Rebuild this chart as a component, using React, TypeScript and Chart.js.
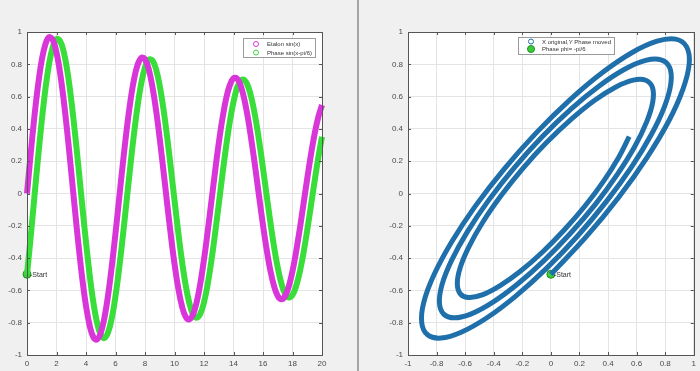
import React, { useEffect, useRef } from 'react';
import { Chart, registerables } from 'chart.js';

Chart.register(...registerables);

// ---- data ----
const X_VALUES = [
  0, 0.25, 0.5, 0.75, 1, 1.25, 1.5, 1.75, 2, 2.25, 2.5, 2.75, 3, 3.25, 3.5, 3.75,
  4, 4.25, 4.5, 4.75, 5, 5.25, 5.5, 5.75, 6, 6.25, 6.5, 6.75, 7, 7.25, 7.5, 7.75,
  8, 8.25, 8.5, 8.75, 9, 9.25, 9.5, 9.75, 10, 10.25, 10.5, 10.75, 11, 11.25, 11.5, 11.75,
  12, 12.25, 12.5, 12.75, 13, 13.25, 13.5, 13.75, 14, 14.25, 14.5, 14.75, 15, 15.25, 15.5, 15.75,
  16, 16.25, 16.5, 16.75, 17, 17.25, 17.5, 17.75, 18, 18.25, 18.5, 18.75, 19, 19.25, 19.5, 19.75, 20,
];

const ETALON = [
  0.0, 0.246, 0.475, 0.671, 0.825, 0.925, 0.968, 0.95, 0.873, 0.743, 0.569, 0.361, 0.133, -0.101, -0.326, -0.529,
  -0.696, -0.819, -0.89, -0.904, -0.863, -0.769, -0.628, -0.45, -0.246, -0.029, 0.187, 0.389, 0.565, 0.704, 0.797, 0.84,
  0.831, 0.771, 0.663, 0.516, 0.338, 0.142, -0.061, -0.257, -0.435, -0.584, -0.695, -0.762, -0.78, -0.75, -0.674, -0.557,
  -0.408, -0.235, -0.05, 0.136, 0.311, 0.464, 0.587, 0.671, 0.713, 0.711, 0.664, 0.577, 0.455, 0.307, 0.143, -0.029,
  -0.196, -0.348, -0.477, -0.574, -0.635, -0.655, -0.634, -0.575, -0.481, -0.358, -0.216, -0.062, 0.093, 0.24, 0.369, 0.474, 0.548,
];

const PHASE = [
  -0.5, -0.269, -0.023, 0.221, 0.449, 0.648, 0.804, 0.908, 0.956, 0.943, 0.873, 0.749, 0.58, 0.377, 0.153, -0.078,
  -0.302, -0.505, -0.675, -0.8, -0.875, -0.895, -0.859, -0.771, -0.635, -0.462, -0.263, -0.049, 0.165, 0.367, 0.543, 0.684,
  0.781, 0.828, 0.824, 0.769, 0.666, 0.524, 0.351, 0.159, -0.041, -0.236, -0.414, -0.564, -0.677, -0.747, -0.77, -0.745,
  -0.674, -0.562, -0.417, -0.248, -0.067, 0.117, 0.291, 0.445, 0.568, 0.656, 0.701, 0.702, 0.66, 0.578, 0.461, 0.317,
  0.156, -0.013, -0.178, -0.33, -0.459, -0.558, -0.621, -0.644, -0.628, -0.572, -0.483, -0.365, -0.226, -0.076, 0.077, 0.223, 0.352,
];

const START_POINT = { x: 0, y: -0.5 };

const LEFT_LABELS = ['Etalon sin(x)', 'Phase sin(x-pi/6)'];
const RIGHT_LABELS = ['X original,Y Phase moved', 'Phase phi= -pi/6'];
const START_TEXT = '-Start';

const LEFT_X_RANGE = { min: 0, max: 20, step: 2 };
const RIGHT_X_RANGE = { min: -1, max: 1, step: 0.2 };
const Y_RANGE = { min: -1, max: 1, step: 0.2 };

// ---- styling ----
const FONT = "'Liberation Sans', Arial, Helvetica, sans-serif";
const MAGENTA = '#d936d9';
const GREEN = '#3ade3a';
const BLUE = '#1f6fab';
const BLUE_LIGHT = '#5d9acb';
const START_FILL = '#3ccc3c';
const START_EDGE = '#1f8f1f';
const AXIS = '#555555';
const GRID = '#e4e4e4';

const fmt = (v: number) => String(Math.round(v * 10) / 10);

type LegendEntry = { label: string; dy: number; r: number; stroke: string; fillColor?: string };
type LegendCfg = {
  fromRight: boolean;
  dx: number;
  dy: number;
  w: number;
  h: number;
  mx: number;
  tx: number;
  entries: LegendEntry[];
};

function makeMatlabPlugin(startIndex: number, legend: LegendCfg) {
  return {
    id: 'matlabFrame',
    beforeDraw(chart: any) {
      const { ctx, chartArea: a } = chart;
      ctx.save();
      ctx.fillStyle = '#ffffff';
      ctx.fillRect(a.left, a.top, a.right - a.left, a.bottom - a.top);
      ctx.restore();
    },
    afterDraw(chart: any) {
      const { ctx, chartArea: a, scales } = chart;
      ctx.save();
      // inward ticks on all four sides
      ctx.strokeStyle = AXIS;
      ctx.lineWidth = 1;
      const tl = 3;
      ctx.beginPath();
      scales.x.ticks.forEach((t: any) => {
        const px = Math.round(scales.x.getPixelForValue(t.value)) + 0.5;
        ctx.moveTo(px, a.bottom);
        ctx.lineTo(px, a.bottom - tl);
        ctx.moveTo(px, a.top);
        ctx.lineTo(px, a.top + tl);
      });
      scales.y.ticks.forEach((t: any) => {
        const py = Math.round(scales.y.getPixelForValue(t.value)) + 0.5;
        ctx.moveTo(a.left, py);
        ctx.lineTo(a.left + tl, py);
        ctx.moveTo(a.right, py);
        ctx.lineTo(a.right - tl, py);
      });
      ctx.stroke();
      ctx.strokeRect(
        Math.round(a.left) + 0.5,
        Math.round(a.top) + 0.5,
        Math.round(a.right - a.left),
        Math.round(a.bottom - a.top)
      );

      // start label
      const meta = chart.getDatasetMeta(startIndex);
      const el = meta && meta.data[0];
      if (el) {
        ctx.fillStyle = '#333333';
        ctx.font = `7px ${FONT}`;
        ctx.textBaseline = 'middle';
        ctx.textAlign = 'left';
        ctx.fillText(START_TEXT, el.x + 3, el.y + 1);
      }

      // legend box
      const bx = legend.fromRight ? a.right - legend.dx : a.left + legend.dx;
      const by = a.top + legend.dy;
      ctx.fillStyle = '#ffffff';
      ctx.fillRect(bx, by, legend.w, legend.h);
      ctx.strokeStyle = '#9a9a9a';
      ctx.lineWidth = 1;
      ctx.strokeRect(Math.round(bx) + 0.5, Math.round(by) + 0.5, legend.w, legend.h);
      ctx.font = `6px ${FONT}`;
      ctx.textBaseline = 'middle';
      ctx.textAlign = 'left';
      legend.entries.forEach((e) => {
        const cy = by + e.dy;
        ctx.beginPath();
        ctx.arc(bx + legend.mx, cy, e.r, 0, Math.PI * 2);
        ctx.closePath();
        if (e.fillColor) {
          ctx.fillStyle = e.fillColor;
          ctx.fill();
        }
        ctx.strokeStyle = e.stroke;
        ctx.lineWidth = 1;
        ctx.stroke();
        ctx.fillStyle = '#333333';
        ctx.fillText(e.label, bx + legend.tx, cy + 0.5);
      });
      ctx.restore();
    },
  };
}

function axis(range: { min: number; max: number; step: number }, isX: boolean, size: number) {
  return {
    type: 'linear',
    min: range.min,
    max: range.max,
    ticks: {
      stepSize: range.step,
      callback: (v: any) => fmt(Number(v)),
      font: { family: FONT, size: 8 },
      color: '#4a4a4a',
      padding: isX ? 4 : 5,
      autoSkip: false,
      maxRotation: 0,
      minRotation: 0,
    },
    grid: { color: GRID, lineWidth: 1, drawTicks: false },
    border: { display: false },
    afterFit(s: any) {
      if (isX) s.height = size;
      else s.width = size;
    },
  };
}

export default function App() {
  const leftRef = useRef<HTMLCanvasElement | null>(null);
  const rightRef = useRef<HTMLCanvasElement | null>(null);

  useEffect(() => {
    const etalonPts = X_VALUES.map((x, i) => ({ x, y: ETALON[i] }));
    const phasePts = X_VALUES.map((x, i) => ({ x, y: PHASE[i] }));
    const spiralPts = ETALON.map((v, i) => ({ x: v, y: PHASE[i] }));

    const startDs = {
      label: 'start',
      data: [START_POINT],
      showLine: false,
      pointRadius: 4,
      pointBackgroundColor: START_FILL,
      pointBorderColor: START_EDGE,
      pointBorderWidth: 1,
      clip: false,
    };

    const left = new Chart(leftRef.current as HTMLCanvasElement, {
      type: 'scatter',
      data: {
        datasets: [
          {
            label: LEFT_LABELS[0],
            data: etalonPts,
            showLine: true,
            borderColor: MAGENTA,
            borderWidth: 6,
            pointRadius: 0,
            tension: 0.4,
            clip: 3,
          },
          {
            label: LEFT_LABELS[1],
            data: phasePts,
            showLine: true,
            borderColor: GREEN,
            borderWidth: 6,
            pointRadius: 0,
            tension: 0.4,
            clip: 3,
          },
          startDs,
        ] as any,
      },
      options: {
        responsive: false,
        animation: false,
        layout: { padding: { left: 0, top: 32, right: 28, bottom: 0 } },
        plugins: { legend: { display: false }, tooltip: { enabled: false } },
        scales: {
          x: axis(LEFT_X_RANGE, true, 16),
          y: axis(Y_RANGE, false, 27),
        } as any,
      },
      plugins: [
        makeMatlabPlugin(2, {
          fromRight: true,
          dx: 79,
          dy: 6,
          w: 72,
          h: 19,
          mx: 13,
          tx: 24,
          entries: [
            { label: LEFT_LABELS[0], dy: 6, r: 2.5, stroke: MAGENTA },
            { label: LEFT_LABELS[1], dy: 14.5, r: 2.5, stroke: GREEN },
          ],
        }),
      ],
    });

    const right = new Chart(rightRef.current as HTMLCanvasElement, {
      type: 'scatter',
      data: {
        datasets: [
          {
            label: RIGHT_LABELS[0],
            data: spiralPts,
            showLine: true,
            borderColor: BLUE,
            borderWidth: 5,
            pointRadius: 0,
            tension: 0.4,
          },
          {
            label: 'center',
            data: spiralPts,
            showLine: true,
            borderColor: BLUE_LIGHT,
            borderWidth: 1.2,
            pointRadius: 0,
            tension: 0.4,
          },
          { ...startDs, label: RIGHT_LABELS[1] },
        ] as any,
      },
      options: {
        responsive: false,
        animation: false,
        layout: { padding: { left: 0, top: 32, right: 6, bottom: 0 } },
        plugins: { legend: { display: false }, tooltip: { enabled: false } },
        scales: {
          x: axis(RIGHT_X_RANGE, true, 16),
          y: axis(Y_RANGE, false, 50),
        } as any,
      },
      plugins: [
        makeMatlabPlugin(2, {
          fromRight: false,
          dx: 110,
          dy: 5,
          w: 96,
          h: 17,
          mx: 13,
          tx: 24,
          entries: [
            { label: RIGHT_LABELS[0], dy: 4.5, r: 2.5, stroke: BLUE },
            { label: RIGHT_LABELS[1], dy: 12, r: 3.5, stroke: START_EDGE, fillColor: START_FILL },
          ],
        }),
      ],
    });

    return () => {
      left.destroy();
      right.destroy();
    };
  }, []);

  return (
    <div
      style={{
        position: 'fixed',
        left: 0,
        top: 0,
        width: 700,
        height: 371,
        background: '#f0f0f0',
        overflow: 'hidden',
      }}
    >
      <canvas
        ref={leftRef}
        width={350}
        height={371}
        style={{ position: 'absolute', left: 0, top: 0, width: 350, height: 371 }}
      />
      <div style={{ position: 'absolute', left: 357, top: 0, width: 2, height: 371, background: '#a4a4a4' }} />
      <canvas
        ref={rightRef}
        width={342}
        height={371}
        style={{ position: 'absolute', left: 358, top: 0, width: 342, height: 371 }}
      />
    </div>
  );
}
